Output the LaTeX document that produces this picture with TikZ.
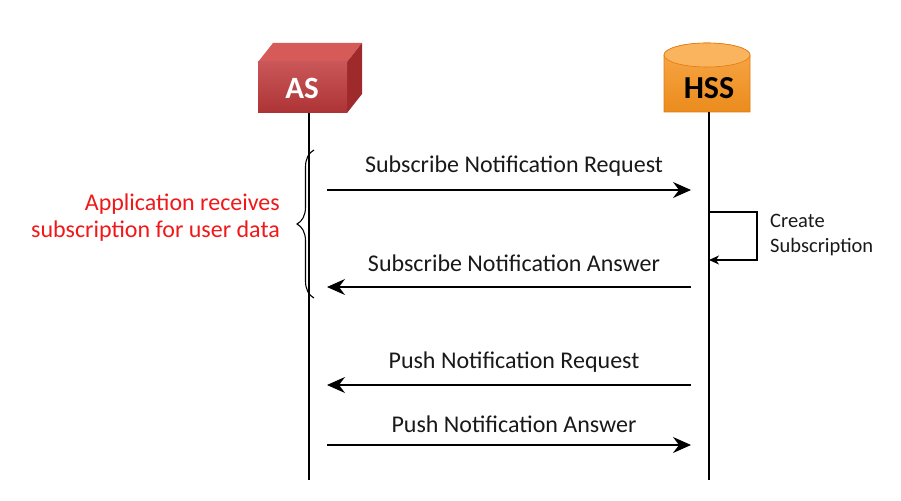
\documentclass[tikz,border=0pt]{standalone}
\usepackage{fontspec}
\setmainfont{Carlito}
\usetikzlibrary{arrows.meta,decorations.pathreplacing,shapes.geometric}
\definecolor{asfront}{HTML}{C0393B}
\definecolor{astop}{HTML}{D65A58}
\definecolor{asside}{HTML}{9E2A2B}
\definecolor{hssbody}{HTML}{F7931E}
\definecolor{hsstop}{HTML}{FBB45E}
\definecolor{hssedge}{HTML}{E07A10}
\definecolor{redtext}{HTML}{F01818}
\tikzset{
  msg/.style={line width=1.2pt,-{Stealth[length=18pt,width=16pt,inset=6pt]}},
  lifeline/.style={line width=1.1pt},
  msglabel/.style={font=\fontsize{24}{28}\selectfont,text=black!90,inner sep=0pt},
}
\begin{document}
\begin{tikzpicture}[x=1pt,y=-1pt]
\useasboundingbox (0,0) rectangle (901,500);
% AS cuboid
\fill[astop] (258,62) -- (273,43) -- (362,43) -- (347,62) -- cycle;
\fill[asside] (347,62) -- (362,43) -- (362,94) -- (347,113) -- cycle;
\shade[top color=asfront!85!white,bottom color=asfront!90!black] (258,62) rectangle (347,113);
\node[font=\fontsize{31}{34}\selectfont\bfseries,text=white] (as) at (302,88) {AS};
\coordinate (asb) at (309,113);
\coordinate (ase) at (309,480);
% HSS cylinder
\shade[top color=hssbody!80!white,bottom color=hssbody!95!black,draw=hssedge,line width=0.6pt]
  (664,55) -- (664,112) -- (750,112) -- (750,55) arc[start angle=0,end angle=-180,x radius=43,y radius=12];
\fill[hsstop,draw=hssedge,line width=0.6pt] (707,55) ellipse[x radius=43,y radius=12];
\node[font=\fontsize{32}{35}\selectfont\bfseries,text=black] (hss) at (709,88) {HSS};
\coordinate (hssb) at (709,112);
\coordinate (hsse) at (709,480);
% lifelines
\draw[lifeline] (asb) -- (ase);
\draw[lifeline] (hssb) -- (hsse);
% messages
\coordinate (a1) at (327,190); \coordinate (h1) at (691,190);
\coordinate (a2) at (327,287); \coordinate (h2) at (691,287);
\coordinate (a3) at (327,385); \coordinate (h3) at (691,385);
\coordinate (a4) at (327,445); \coordinate (h4) at (691,445);
\draw[msg] (a1) -- (h1);
\draw[msg] (h2) -- (a2);
\draw[msg] (h3) -- (a3);
\draw[msg] (a4) -- (h4);
\node[msglabel] (l1) at (514,166) {Subscribe Notification Request};
\node[msglabel] (l2) at (514,263) {Subscribe Notification Answer};
\node[msglabel] (l3) at (514,362) {Push Notification Request};
\node[msglabel] (l4) at (514,424) {Push Notification Answer};
% self loop
\coordinate (s1) at (709,212);
\coordinate (s2) at (709,260);
\draw[line width=1.1pt,-{Stealth[length=10pt,width=9pt,inset=3pt]}] (s1) -- (757,212) -- (757,260) -- (s2);
\node[font=\fontsize{20.5}{25}\selectfont,text=black!90,align=left,anchor=west,inner sep=0pt] (cs) at (770,235) {Create\\Subscription};
% brace
\draw[line width=1.1pt,decorate,decoration={brace,amplitude=17pt,mirror}] (314,150) -- (314,298);
% red text
\node[font=\fontsize{24}{27}\selectfont,text=redtext,align=right,anchor=east,inner sep=0pt] (app) at (280,218) {Application receives\\subscription for user data};
\end{tikzpicture}
\end{document}
